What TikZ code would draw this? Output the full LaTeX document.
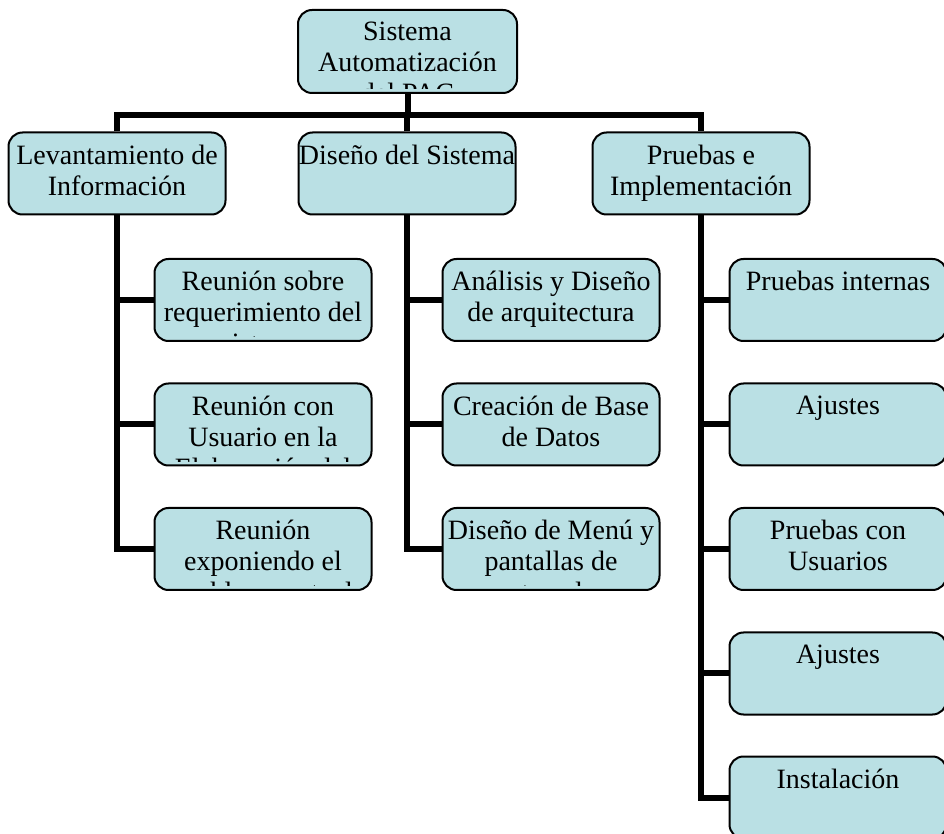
\documentclass[tikz,border=0pt]{standalone}
\usepackage{fontspec}
\setmainfont{Liberation Serif}
\definecolor{boxfill}{RGB}{186,224,228}
\tikzset{wbs box/.style={draw=black, line width=1pt, fill=boxfill, rounded corners=7pt,
                         minimum width=108.5pt, minimum height=41pt, inner sep=0pt},
         box text/.style={anchor=north, inner sep=0pt, align=center,
                          font=\fontsize{14}{15.5}\selectfont},
         link/.style={black, line width=3pt}}
% text of a box, cut off at the lower edge of the box
\newcommand{\boxtext}[2]{%
  \begin{scope}
    \clip ([yshift=2.5pt]#1.south west) rectangle (#1.north east);
    \node[box text] at ([yshift=-6.5pt]#1.north) {#2};
  \end{scope}}
\begin{document}
\begin{tikzpicture}[x=0.5pt,y=-0.5pt]
   \clip (0,0) rectangle (944,834);
   % top level
   \node[wbs box, minimum width=109.5pt, minimum height=41.5pt] (sys) at (407.5,51.5) {};
   \boxtext{sys}{Sistema\\Automatización\\del PAC}
   % phases
   \node[wbs box] (lev) at (117,173.5) {};
   \node[wbs box] (dis) at (407,173.5) {};
   \node[wbs box] (pru) at (701,173.5) {};
   \boxtext{lev}{Levantamiento de\\Información}
   \boxtext{dis}{Diseño del Sistema}
   \boxtext{pru}{Pruebas e\\Implementación}
   % tasks
   \node[wbs box] (r11) at (263,300)   {};
   \node[wbs box] (r12) at (263,424.5) {};
   \node[wbs box] (r13) at (263,549)   {};
   \node[wbs box] (r21) at (551,300)   {};
   \node[wbs box] (r22) at (551,424.5) {};
   \node[wbs box] (r23) at (551,549)   {};
   \begin{scope}[every node/.append style={minimum width=104pt}]
    \node[wbs box] (r31) at (838,300)   {};
    \node[wbs box] (r32) at (838,424.5) {};
    \node[wbs box] (r33) at (838,549)   {};
    \node[wbs box] (r34) at (838,673.5) {};
    \node[wbs box] (r35) at (838,797.5) {};
   \end{scope}
   \boxtext{r11}{Reunión sobre\\requerimiento del\\sistema}
   \boxtext{r12}{Reunión con\\Usuario en la\\Elaboración del}
   \boxtext{r13}{Reunión\\exponiendo el\\problema actual}
   \boxtext{r21}{Análisis y Diseño\\de arquitectura}
   \boxtext{r22}{Creación de Base\\de Datos}
   \boxtext{r23}{Diseño de Menú y\\pantallas de\\mantenedores}
   \boxtext{r31}{Pruebas internas}
   \boxtext{r32}{Ajustes}
   \boxtext{r33}{Pruebas con\\Usuarios}
   \boxtext{r34}{Ajustes}
   \boxtext{r35}{Instalación}
   % connectors
   \coordinate (bus) at (407.5,115);
   \draw[link] (sys.south) -- (sys.south |- bus);
   \draw[link] (lev.north) |- (bus) -| (pru.north);
   \draw[link] (dis.north) -- (dis.north |- bus);
   \foreach \p/\k in {lev/1, dis/2} {
     \draw[link] (\p.south) |- (r\k3.west);
     \foreach \j in {1,2} \draw[link] (\p.south |- r\k\j.west) -- (r\k\j.west);
   }
   \draw[link] (pru.south) |- (r35.west);
   \foreach \j in {1,...,4} \draw[link] (pru.south |- r3\j.west) -- (r3\j.west);
\end{tikzpicture}
\end{document}
